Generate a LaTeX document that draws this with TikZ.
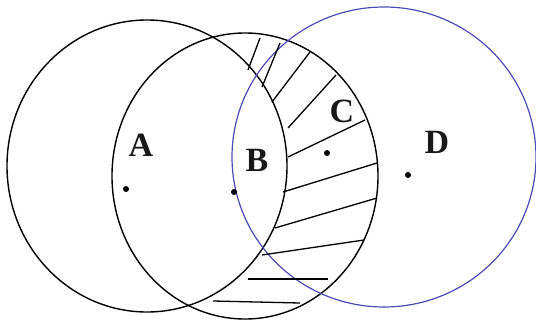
\documentclass[tikz,border=0pt]{standalone}
\usepackage{fontspec}
\setmainfont{Liberation Serif}
\definecolor{dblue}{RGB}{75,75,180}
\begin{document}
\begin{tikzpicture}[x=1pt,y=-1pt,
  blackcirc/.style={draw=black, line width=1.4pt},
  bluecirc/.style={draw=dblue, line width=1.2pt},
  hatch/.style={draw=black, line width=1.3pt},
  lbl/.style={font=\fontsize{34}{34}\selectfont\bfseries, inner sep=0pt, text=black!90},
  dotnode/.style={circle, fill=black, inner sep=0pt, minimum size=6pt}]
\useasboundingbox (0,0) rectangle (536,325);
% circles
\draw[blackcirc] (147,166) ellipse [x radius=140pt, y radius=146pt];
\draw[blackcirc] (245,176) ellipse [x radius=133pt, y radius=143pt];
\draw[bluecirc] (384,157) ellipse [x radius=152pt, y radius=150pt];
% hatching
\draw[hatch] (260,38) -- (248,70);
\draw[hatch] (280,43) -- (262,87);
\draw[hatch] (310,52) -- (272,102);
\draw[hatch] (336,75) -- (288,128);
\draw[hatch] (365,120) -- (288,157);
\draw[hatch] (377,163) -- (283,192);
\draw[hatch] (377,198) -- (275,228);
\draw[hatch] (364,240) -- (262,255);
\draw[hatch] (248,279) -- (328,279);
\draw[hatch] (213,301) -- (300,303);
% points
\node[dotnode] (pA) at (126,189) {};
\node[dotnode] (pB) at (234,192) {};
\node[dotnode] (pC) at (327,153) {};
\node[dotnode] (pD) at (408,175) {};
% labels
\node[lbl] (lA) at (141,145) {A};
\node[lbl] (lB) at (257,160) {B};
\node[lbl] (lC) at (342,111) {C};
\node[lbl] (lD) at (437,142) {D};
\end{tikzpicture}
\end{document}
